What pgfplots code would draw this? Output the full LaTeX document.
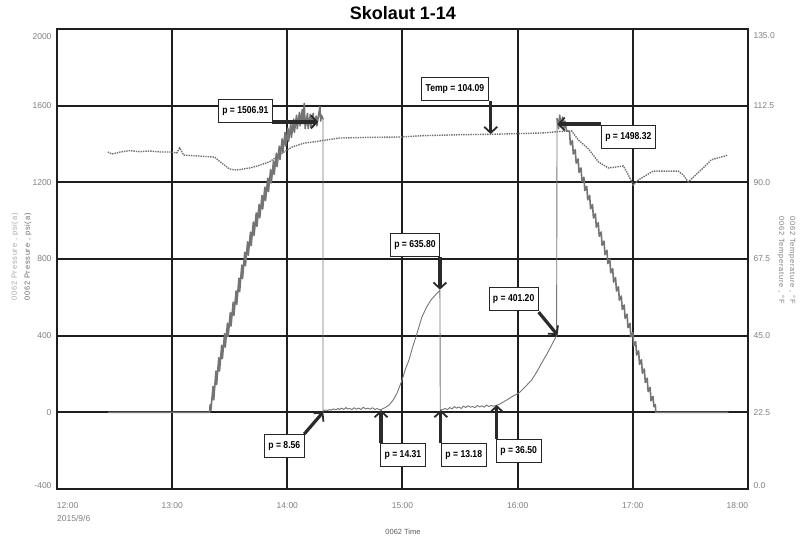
\documentclass[border=0pt]{standalone}
\usepackage{fontspec}
\setmainfont{Liberation Sans}
\newfontfamily\annfont[FakeStretch=0.86]{Liberation Sans}
\usepackage{pgfplots}
\pgfplotsset{compat=1.18}
\usetikzlibrary{arrows.meta}
\definecolor{tickgray}{HTML}{7F7F7F}
\definecolor{pgray}{HTML}{747474}
\definecolor{tgray}{HTML}{707070}
\definecolor{gridc}{HTML}{1E1E1E}
\definecolor{arrc}{HTML}{2A2A2A}
\tikzset{
  ann/.style={draw=black!85, line width=0.7pt, fill=white, inner xsep=4pt, minimum height=23pt, font=\annfont\bfseries\fontsize{10}{12}\selectfont},
  arr/.style={arrc, line width=3.2pt, -{Straight Barb[length=6pt,width=13pt,line width=1.8pt]}}
}
\begin{document}
\begin{tikzpicture}
\path[use as bounding box] (-57pt,-50pt) rectangle (752pt,489pt);
\begin{axis}[
  at={(0pt,0pt)}, anchor=south west,
  scale only axis, width=691pt, height=460pt,
  xmin=0, xmax=6, ymin=-400, ymax=2000,
  xtick={0,1,2,3,4,5,6},
  xticklabels={\makebox[0pt][l]{12:00},13:00,14:00,15:00,16:00,17:00,\makebox[0pt][r]{18:00}},
  ytick={-400,0,400,800,1200,1600,2000},
  yticklabels={\raisebox{4pt}[6pt][0pt]{-400},0,400,800,1200,1600,\raisebox{-7pt}[6pt][0pt]{2000}},
  xmajorgrids, ymajorgrids,
  x grid style={gridc, line width=2pt},
  y grid style={gridc, line width=2.2pt},
  axis line style={gridc, line width=2pt},
  major tick length=0pt,
  tick label style={font=\fontsize{8.5}{10}\selectfont, text=tickgray},
  xticklabel style={yshift=-10pt},
  yticklabel style={xshift=-2pt},
  every axis plot/.append style={line join=round},
]
% pressure: flat + ramp up
\addplot[pgray, line width=1.6pt] coordinates {
(0.442,0)(1.325,0)
(1.330,40)(1.336,10)(1.355,135)(1.361,65)(1.38,215)(1.386,145)(1.405,285)(1.411,215)
(1.43,350)(1.436,280)(1.455,410)(1.461,340)(1.48,465)(1.486,395)(1.505,520)(1.511,450)
(1.53,575)(1.536,505)(1.555,633)(1.561,563)(1.58,700)(1.586,630)(1.605,768)(1.611,698)
(1.63,835)(1.636,765)(1.655,890)(1.661,820)(1.68,940)(1.686,870)(1.705,993)(1.711,923)
(1.73,1040)(1.736,970)(1.755,1085)(1.761,1015)(1.78,1131)(1.786,1061)(1.805,1175)(1.811,1105)
(1.83,1222)(1.836,1152)(1.855,1267)(1.861,1197)(1.88,1312)(1.886,1242)(1.905,1352)(1.911,1282)
(1.93,1389)(1.936,1319)(1.955,1427)(1.961,1357)(1.98,1460)(1.986,1390)(2.005,1483)(2.011,1413)
(2.03,1505)(2.036,1435)(2.055,1530)(2.061,1460)(2.08,1550)(2.086,1480)(2.105,1565)(2.111,1495)
(2.13,1580)(2.136,1505)(2.147,1612)(2.155,1480)(2.175,1560)(2.181,1480)(2.2,1555)(2.206,1485)
(2.225,1560)(2.231,1495)(2.25,1545)(2.256,1495)(2.283,1595)(2.29,1520)(2.297,1550)(2.31,1530)
};
% pressure: drop, build-ups
\addplot[pgray, line width=0.9pt] coordinates {
(2.31,1530)(2.31,0)
(2.312,8)(2.33,12)(2.35,10)(2.37,15)(2.38,11)(2.40,18)(2.42,13)(2.44,20)(2.45,14)(2.47,22)
(2.49,15)(2.51,25)(2.52,17)(2.54,20)(2.56,14)(2.58,24)(2.60,16)(2.62,22)(2.64,15)(2.66,27)
(2.68,17)(2.70,22)(2.72,16)(2.74,24)(2.76,15)(2.78,20)(2.80,14)(2.811,14)
(2.85,25)(2.883,38)(2.92,65)(2.952,100)(2.975,135)(2.996,168)(3.025,225)(3.056,272)(3.085,335)
(3.117,394)(3.145,450)(3.169,498)(3.21,550)(3.247,586)(3.29,615)(3.325,636)
(3.328,0)
(3.333,12)(3.35,15)(3.37,20)(3.39,14)(3.41,25)(3.43,18)(3.45,30)(3.47,22)(3.49,28)(3.51,20)
(3.53,33)(3.55,25)(3.57,35)(3.59,27)(3.61,30)(3.63,24)(3.65,36)(3.67,28)(3.69,34)(3.71,27)
(3.73,38)(3.75,30)(3.77,36)(3.79,32)(3.818,37)
(3.835,40)(3.87,52)(3.92,70)(3.96,85)(4.009,100)(4.06,130)(4.121,168)(4.17,215)(4.208,257)
(4.25,300)(4.286,340)(4.338,401)
(4.342,1535)
};
% pressure: ramp down + flat
\addplot[pgray, line width=1.6pt] coordinates {
(4.342,1535)(4.355,1480)(4.365,1550)(4.375,1490)(4.39,1540)(4.40,1480)(4.41,1520)(4.424,1470)
(4.45,1465)(4.458,1395)(4.475,1418)(4.483,1348)(4.50,1370)(4.508,1300)(4.525,1322)(4.533,1252)
(4.55,1275)(4.558,1205)(4.575,1227)(4.583,1157)(4.60,1179)(4.608,1109)(4.625,1132)(4.633,1062)
(4.65,1084)(4.658,1014)(4.675,1036)(4.683,966)(4.70,989)(4.708,919)(4.725,941)(4.733,871)
(4.75,893)(4.758,823)(4.775,846)(4.783,776)(4.80,798)(4.808,728)(4.825,750)(4.833,680)
(4.85,703)(4.858,633)(4.875,655)(4.883,585)(4.90,607)(4.908,537)(4.925,560)(4.933,490)
(4.95,512)(4.958,442)(4.975,464)(4.983,394)(5.00,417)(5.008,347)(5.025,369)(5.033,299)
(5.05,321)(5.058,251)(5.075,274)(5.083,204)(5.10,226)(5.108,156)(5.125,178)(5.133,108)
(5.15,130)(5.158,60)(5.175,83)(5.183,30)(5.195,40)(5.20,0)
(5.83,0)
};
% annotations
\draw[arr] (axis cs:1.870,1515) -- (axis cs:2.268,1515);
\draw[arr] (axis cs:3.766,1624) -- (axis cs:3.766,1452);
\draw[arr] (axis cs:4.727,1504) -- (axis cs:4.346,1504);
\draw[arr] (axis cs:3.325,810) -- (axis cs:3.325,640);
\draw[arr] (axis cs:4.182,523) -- (axis cs:4.346,403);
\draw[arr] (axis cs:2.147,-113) -- (axis cs:2.312,2);
\draw[arr] (axis cs:2.814,-160) -- (axis cs:2.814,12);
\draw[arr] (axis cs:3.333,-160) -- (axis cs:3.333,12);
\draw[arr] (axis cs:3.818,-139) -- (axis cs:3.818,38);
\node[ann] at (axis cs:1.636,1572) {p = 1506.91};
\node[ann] at (axis cs:3.455,1687) {Temp = 104.09};
\node[ann] at (axis cs:4.961,1436) {p = 1498.32};
\node[ann] at (axis cs:3.108,873) {p = 635.80};
\node[ann] at (axis cs:3.965,591) {p = 401.20};
\node[ann] at (axis cs:1.974,-174) {p = 8.56};
\node[ann] at (axis cs:3.004,-221) {p = 14.31};
\node[ann] at (axis cs:3.532,-221) {p = 13.18};
\node[ann] at (axis cs:4.009,-200) {p = 36.50};
\end{axis}
\begin{axis}[
  at={(0pt,0pt)}, anchor=south west,
  scale only axis, width=691pt, height=460pt,
  xmin=0, xmax=6, ymin=0, ymax=135,
  axis x line=none, axis y line*=right,
  y axis line style={draw=none},
  ytick={0,22.5,45,67.5,90,112.5,135},
  yticklabels={\raisebox{4pt}[6pt][0pt]{0.0},22.5,45.0,67.5,90.0,112.5,\raisebox{-7pt}[6pt][0pt]{135.0}},
  major tick length=0pt,
  tick label style={font=\fontsize{8.5}{10}\selectfont, text=tickgray},
  yticklabel style={xshift=2pt},
]
\addplot[tgray, densely dotted, line width=1.4pt] coordinates {
(0.442,98.9)(0.476,98.3)(0.55,98.9)(0.632,99.3)(0.72,99.0)(0.805,99.2)(0.90,98.9)(0.996,98.9)
(1.039,98.6)(1.065,100.1)(1.100,98.0)(1.238,97.7)(1.368,97.4)(1.429,95.7)(1.498,93.9)(1.558,93.6)
(1.671,94.2)(1.740,94.8)(1.844,96.0)(1.957,98.6)(2.043,100.4)(2.147,101.5)(2.277,102.1)(2.450,103.0)
(2.710,103.2)(2.970,103.3)(3.186,103.7)(3.532,104.0)(3.766,104.09)(4.009,104.3)(4.225,104.5)
(4.355,104.9)(4.468,105.1)(4.528,102.4)(4.615,99.8)(4.701,96.0)(4.788,94.2)(4.918,94.8)(4.961,92.2)
(5.004,89.2)(5.048,90.7)(5.177,93.3)(5.394,93.3)(5.437,92.2)(5.481,90.1)(5.610,94.2)(5.680,96.6)
(5.827,98.0)
};
\end{axis}
\node[font=\bfseries\fontsize{18}{20}\selectfont] at (346pt,476pt) {Skolaut 1-14};
\node[rotate=90, text=black!35, font=\fontsize{7.5}{9}\selectfont\addfontfeature{LetterSpace=10}] at (-42pt,232pt) {0062 Pressure , psi(a)};
\node[rotate=90, text=black!60, font=\fontsize{7.5}{9}\selectfont\addfontfeature{LetterSpace=10}] at (-29pt,232pt) {0062 Pressure , psi(a)};
\node[rotate=-90, text=black!50, font=\fontsize{7.5}{9}\selectfont\addfontfeature{LetterSpace=10}] at (735pt,229pt) {0062 Temperature , °F};
\node[rotate=-90, text=black!50, font=\fontsize{7.5}{9}\selectfont\addfontfeature{LetterSpace=10}] at (724pt,229pt) {0062 Temperature , °F};
\node[anchor=west, text=tickgray, font=\fontsize{8.5}{10}\selectfont, inner sep=0pt] at (0pt,-29pt) {2015/9/6};
\node[text=black!65, font=\fontsize{7.5}{9}\selectfont] at (346pt,-43pt) {0062 Time};
\end{tikzpicture}
\end{document}
